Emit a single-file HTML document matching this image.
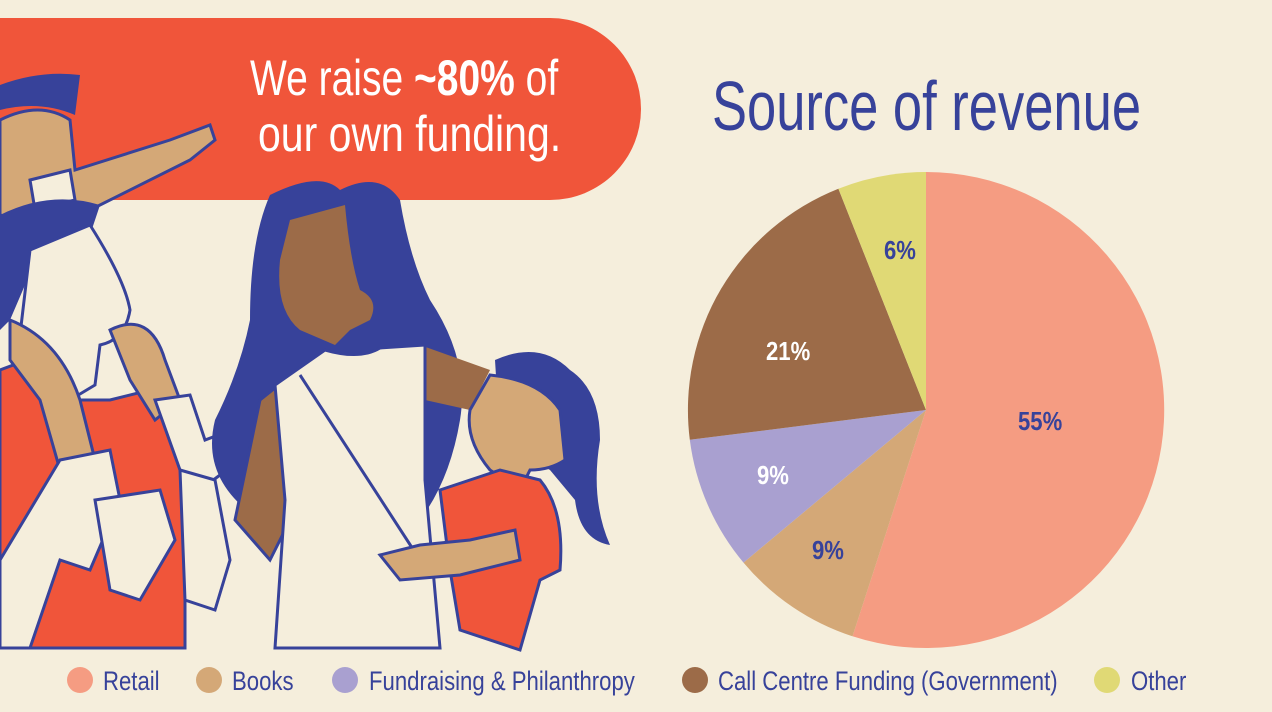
<!DOCTYPE html>
<html><head><meta charset="utf-8"><style>
html,body{margin:0;padding:0;background:#f5eedc;}
body{width:1272px;height:712px;position:relative;overflow:hidden;font-family:"Liberation Sans",sans-serif;}
.t{position:absolute;white-space:nowrap;transform-origin:0 0;}
.lg{color:#37429a;font-size:27px;transform:scaleX(0.82);top:666px;}
.pl{font-size:26px;font-weight:bold;transform:scaleX(0.85);}
</style></head><body>
<svg width="1272" height="712" style="position:absolute;left:0;top:0">
<path d="M0 18 H550 A91 91 0 0 1 550 200 H0 Z" fill="#f0553a"/>
<path d="M0 120 Q40 100 70 120 L75 170 L170 140 L210 125 L215 140 L190 160 L90 210 L20 220 L0 215 Z" fill="#d4a877" stroke="#37429a" stroke-width="3"/>
<path d="M0 85 Q40 70 80 75 L75 115 Q40 100 0 110 Z" fill="#37429a"/>
<path d="M30 180 L70 170 L75 200 L35 210 Z" fill="#f5eedc" stroke="#37429a" stroke-width="3"/>
<path d="M0 215 Q50 190 100 205 L90 235 L40 250 L10 320 L0 330 Z" fill="#37429a"/>
<path d="M30 250 L90 225 Q125 280 130 310 Q125 340 100 345 L95 385 L70 400 L40 350 L20 335 Z" fill="#f5eedc" stroke="#37429a" stroke-width="3"/>
<path d="M0 370 L40 355 L80 400 L110 400 L150 390 L185 420 L185 648 L30 648 L0 640 Z" fill="#f0553a" stroke="#37429a" stroke-width="3"/>
<path d="M110 330 Q150 310 165 360 L180 400 L155 420 L130 380 Z" fill="#d4a877" stroke="#37429a" stroke-width="3"/>
<path d="M10 320 Q60 340 80 400 L95 460 L60 470 L40 400 L10 360 Z" fill="#d4a877" stroke="#37429a" stroke-width="3"/>
<path d="M60 460 L110 450 L120 500 L90 570 L60 560 L30 648 L0 648 L0 560 Z" fill="#f5eedc" stroke="#37429a" stroke-width="3"/>
<path d="M95 500 L160 490 L175 540 L140 600 L110 590 Z" fill="#f5eedc" stroke="#37429a" stroke-width="3"/>
<path d="M155 400 L190 395 L205 440 L245 425 L240 460 L200 490 L180 470 Z" fill="#f5eedc" stroke="#37429a" stroke-width="3"/>
<path d="M180 470 L215 480 L230 560 L215 610 L185 600 Z" fill="#f5eedc" stroke="#37429a" stroke-width="3"/>
<path d="M270 195 Q320 170 340 190 Q380 170 400 200 Q410 260 430 300 Q470 360 460 420 Q450 480 420 520 L300 560 L260 520 Q200 480 215 420 Q240 370 250 320 Q250 240 270 195 Z" fill="#37429a"/>
<path d="M290 220 L345 205 Q350 260 360 290 Q380 300 370 320 L350 330 L335 345 L300 330 Q275 310 280 260 Z" fill="#9c6b48"/>
<path d="M260 400 L285 380 L300 500 L270 560 L235 520 Z" fill="#9c6b48" stroke="#37429a" stroke-width="3"/>
<path d="M420 345 L490 370 L470 410 L425 400 Z" fill="#9c6b48"/>
<path d="M275 385 L325 350 Q360 360 380 348 L425 345 L425 480 L440 648 L275 648 L285 500 Z" fill="#f5eedc" stroke="#37429a" stroke-width="3"/>
<path d="M300 375 L420 560" stroke="#37429a" stroke-width="3"/>
<path d="M495 360 Q540 340 570 370 Q600 390 600 440 Q590 500 610 545 Q580 540 575 500 L550 470 L500 440 Z" fill="#37429a"/>
<path d="M490 375 Q540 380 560 410 L565 460 Q550 470 530 470 L520 490 L490 470 Q465 440 470 410 Z" fill="#d4a877" stroke="#37429a" stroke-width="3"/>
<path d="M440 490 L500 470 L540 480 Q565 510 560 570 L540 580 L520 650 L460 630 L450 570 Z" fill="#f0553a" stroke="#37429a" stroke-width="3"/>
<path d="M380 555 L420 545 L470 540 L515 530 L520 560 L460 575 L400 580 Z" fill="#d4a877" stroke="#37429a" stroke-width="3"/>
<g transform="translate(926,410)">
<path d="M0 0 L0 -238 A238 238 0 1 1 -73.5 226.3 Z" fill="#f59c82"/>
<path d="M0 0 L-73.5 226.3 A238 238 0 0 1 -182.5 152.6 Z" fill="#d4a877"/>
<path d="M0 0 L-182.5 152.6 A238 238 0 0 1 -236.2 29.8 Z" fill="#a9a0d0"/>
<path d="M0 0 L-236.2 29.8 A238 238 0 0 1 -87.6 -221.3 Z" fill="#9c6b48"/>
<path d="M0 0 L-87.6 -221.3 A238 238 0 0 1 0 -238 Z" fill="#e0d975"/>
</g>
<circle cx="80" cy="680" r="13" fill="#f59c82"/>
<circle cx="209" cy="680" r="13" fill="#d4a877"/>
<circle cx="345" cy="680" r="13" fill="#a9a0d0"/>
<circle cx="695" cy="680" r="13" fill="#9c6b48"/>
<circle cx="1107" cy="680" r="13" fill="#e0d975"/>
</svg>
<div class="t" style="left:250px;top:50px;color:#fff;font-size:50px;line-height:56px;transform:scaleX(0.78)">We raise <b>~80%</b> of</div>
<div class="t" style="left:258px;top:106px;color:#fff;font-size:50px;line-height:56px;transform:scaleX(0.82)">our own funding.</div>
<div class="t" style="left:712px;top:66px;color:#37429a;font-size:70px;transform:scaleX(0.75)">Source of revenue</div>
<div class="t pl" style="left:1018px;top:406px;color:#37429a;">55%</div>
<div class="t pl" style="left:884px;top:235px;color:#37429a;">6%</div>
<div class="t pl" style="left:766px;top:336px;color:#fff;">21%</div>
<div class="t pl" style="left:757px;top:460px;color:#fff;">9%</div>
<div class="t pl" style="left:812px;top:535px;color:#37429a;">9%</div>
<div class="t lg" style="left:103px;">Retail</div>
<div class="t lg" style="left:232px;">Books</div>
<div class="t lg" style="left:369px;">Fundraising &amp; Philanthropy</div>
<div class="t lg" style="left:718px;">Call Centre Funding (Government)</div>
<div class="t lg" style="left:1131px;">Other</div>
</body></html>
